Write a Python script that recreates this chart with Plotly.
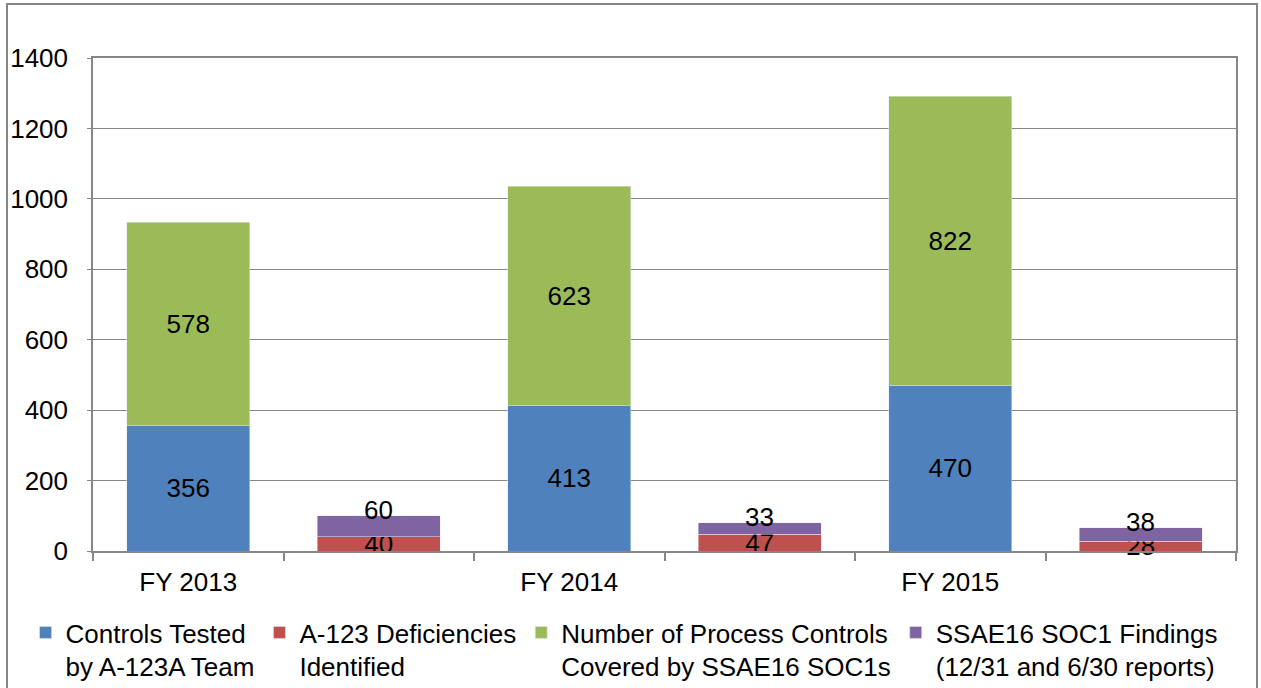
import plotly.graph_objects as go

categories = ["FY 2013", " ", "FY 2014", "  ", "FY 2015", "   "]
tick_labels = ["FY 2013", "", "FY 2014", "", "FY 2015", ""]

controls_x = ["FY 2013", "FY 2014", "FY 2015"]
controls_tested = [356, 413, 470]
process_controls = [578, 623, 822]

findings_x = [" ", "  ", "   "]
a123_deficiencies = [40, 47, 28]
soc1_findings = [60, 33, 38]

names = [
    "Controls Tested<br>by A-123A Team",
    "A-123 Deficiencies<br>Identified",
    "Number of Process Controls<br>Covered by SSAE16 SOC1s",
    "SSAE16 SOC1 Findings<br>(12/31 and 6/30 reports)",
]
colors = ["#4F81BD", "#C0504D", "#9BBB59", "#8064A2"]

FONT = "Liberation Sans, Arial, sans-serif"
FS = 26

fig = go.Figure()
common = dict(textangle=0, constraintext="none", insidetextanchor="middle",
              insidetextfont=dict(color="black", size=FS, family=FONT),
              textposition="inside", cliponaxis=False)

fig.add_trace(go.Bar(x=controls_x, y=controls_tested, name=names[0],
                     marker=dict(color=colors[0]), text=controls_tested, **common))
fig.add_trace(go.Bar(x=findings_x, y=a123_deficiencies, name=names[1],
                     marker=dict(color=colors[1]), text=a123_deficiencies, **common))
fig.add_trace(go.Bar(x=controls_x, y=process_controls, name=names[2],
                     marker=dict(color=colors[2]), text=process_controls, **common))
fig.add_trace(go.Bar(x=findings_x, y=soc1_findings, name=names[3],
                     marker=dict(color=colors[3])))

for xc, r, p in zip(findings_x, a123_deficiencies, soc1_findings):
    fig.add_annotation(x=xc, y=r + p, text=str(p), showarrow=False,
                       yanchor="middle", yshift=6,
                       font=dict(size=FS, family=FONT, color="black"))

grid = "#878787"
fig.update_layout(
    barmode="stack",
    bargap=0.355,
    width=1261, height=688,
    margin=dict(l=93, r=25, t=58, b=137, autoexpand=False),
    paper_bgcolor="white", plot_bgcolor="white",
    font=dict(family=FONT, size=FS, color="black"),
    showlegend=True,
    legend=dict(orientation="h", x=-0.059, xanchor="left", y=-0.282, yanchor="bottom",
                font=dict(size=FS, family=FONT, color="black"),
                valign="top", traceorder="normal", itemwidth=30,
                bgcolor="rgba(0,0,0,0)"),
    xaxis=dict(type="category", categoryorder="array", categoryarray=categories,
               tickmode="array", tickvals=categories, ticktext=tick_labels,
               tickson="boundaries", ticks="outside", ticklen=8, tickcolor=grid,
               tickwidth=1.5, showline=True, linecolor=grid, linewidth=1.5,
               mirror=True, showgrid=False, tickfont=dict(size=FS),
               ticklabelstandoff=7),
    yaxis=dict(range=[0, 1400], dtick=200, tick0=0, showgrid=True, gridcolor=grid,
               gridwidth=1.3, ticks="outside", ticklen=4, tickcolor=grid,
               showline=True, linecolor=grid, linewidth=1.5, mirror=True,
               zeroline=False, ticklabelstandoff=14, tickfont=dict(size=FS)),
)

fig.add_shape(type="rect", xref="paper", yref="paper",
              x0=(7 - 93) / 1143, x1=(1257 - 93) / 1143,
              y0=(551 - 700) / 493, y1=(551 - 4) / 493,
              line=dict(color="#868686", width=2), fillcolor="rgba(0,0,0,0)",
              layer="below")

fig.write_html("out.html", post_script="document.body.style.margin='0px';",
               config={"displayModeBar": False})
